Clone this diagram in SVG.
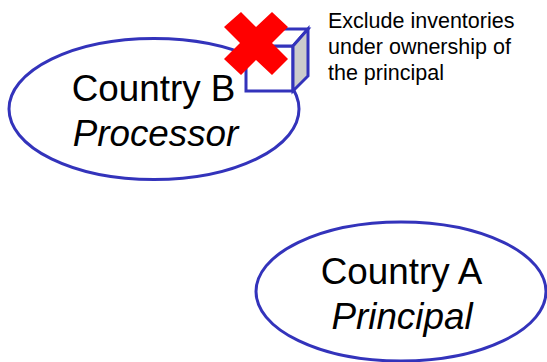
<svg xmlns="http://www.w3.org/2000/svg" width="547" height="362" viewBox="0 0 547 362">
<style>
.e{fill:#fff;stroke:#3333bb;stroke-width:3}
.t{font-family:"Liberation Sans",Arial,sans-serif;font-size:36.8px;fill:#000;text-anchor:middle}
.i{font-style:italic}
.n{font-family:"Liberation Sans",Arial,sans-serif;font-size:21.5px;fill:#000}
.b{stroke:#3333bb;stroke-width:3;stroke-linejoin:miter}
</style>
<rect width="547" height="362" fill="#fff"/>
<g id="node-country-b">
<ellipse class="e" cx="154" cy="109" rx="145" ry="70.5"/>
<text class="t" x="153.500" y="101">Country B</text>
<text class="t i" x="155.500" y="146">Processor</text>
</g>
<g id="node-country-a">
<ellipse class="e" cx="401" cy="291.500" rx="145" ry="69.500"/>
<text class="t" x="401.500" y="284">Country A</text>
<text class="t i" x="402" y="329">Principal</text>
</g>
<g id="node-box">
<path class="b" fill="#fff" d="M246 46H293V91H246Z"/>
<path class="b" fill="#fff" d="M246 46L262 29H308L293 46Z"/>
<path class="b" fill="#cccccc" d="M293 46L308 29V76L293 91Z"/>
</g>
<g id="node-cross">
<path fill="#f00" d="M241 12L256 27L272 12L288 27L272 43L288 59L272 75L256 60L241 75L224 59L240 43L224 27Z"/>
</g>
<g id="node-note">
<text class="n" x="328" y="28">Exclude inventories</text>
<text class="n" x="328" y="54">under ownership of</text>
<text class="n" x="328" y="80">the principal</text>
</g>
<g id="connectors"></g>
</svg>
